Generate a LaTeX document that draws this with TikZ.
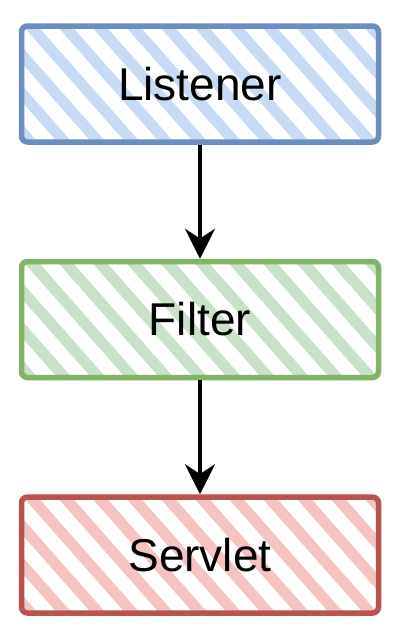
\documentclass[tikz,border=0pt]{standalone}
\usepackage{fontspec}
\setmainfont{Liberation Sans}
\usetikzlibrary{positioning,arrows.meta}

\definecolor{blueline}{HTML}{6C8EBF}
\definecolor{bluehatch}{HTML}{C8DBF5}
\definecolor{greenline}{HTML}{82B366}
\definecolor{greenhatch}{HTML}{C9E1C8}
\definecolor{redline}{HTML}{B85450}
\definecolor{redhatch}{HTML}{F5C4C2}

\begin{document}
\begin{tikzpicture}
[
    node distance=114pt,
    box/.style={draw=#1line, line width=5.5pt, rounded corners=6pt,
        minimum width=357pt, minimum height=116pt,
        font=\fontsize{46}{52}\selectfont,
        path picture={\foreach \k in {-5,...,11}
            \draw[#1hatch, line width=11pt]
            ([xshift=\k*34pt, yshift=10pt]path picture bounding box.north west)
            -- ++(150pt,-170pt);}},
    flow/.style={line width=4pt, -{Stealth[length=30pt, width=30pt]}},
]
\useasboundingbox (0,0) rectangle (407pt,-632pt);
\node [box=blue] (listener) at (200pt,-84pt) {Listener};
\node [box=green, below=of listener] (filter) {Filter};
\node [box=red, below=of filter] (servlet) {Servlet};
\draw [flow] (listener) -- (filter);
\draw [flow] (filter) -- (servlet);
\end{tikzpicture}
\end{document}
